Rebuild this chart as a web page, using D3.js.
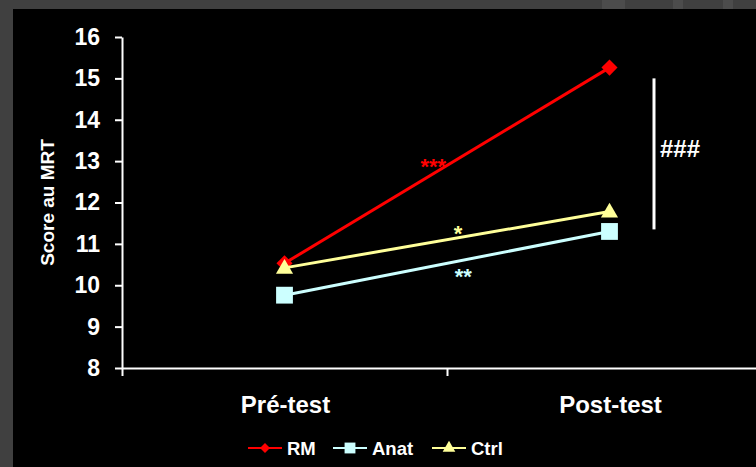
<!DOCTYPE html>
<html>
<head>
<meta charset="utf-8">
<script src="https://cdn.jsdelivr.net/npm/d3@7"></script>
<style>
  html, body { margin: 0; padding: 0; background: #404040; }
  svg { display: block; font-family: "Liberation Sans", Arial, sans-serif; font-weight: bold; }
  .axis path, .axis line { stroke: #fff; stroke-width: 2; }
  .axis text { fill: #fff; font-size: 23px; font-weight: bold; font-family: "Liberation Sans", Arial, sans-serif; }
</style>
</head>
<body>
<div id="chart"></div>
<script>
const categories = ["Pré-test", "Post-test"];
const groups = ["RM", "Anat", "Ctrl"];
const rmScores = [10.53, 15.26];
const anatScores = [9.76, 11.3];
const ctrlScores = [10.42, 11.78];
const yTicks = [8, 9, 10, 11, 12, 13, 14, 15, 16];
const starLabels = ["***", "*", "**"];
const sigLabel = "###";

const width = 756, height = 467;
const margin = { top: 37, left: 122, bottom: 99 };
const colors = { RM: "#ff0000", Anat: "#ccffff", Ctrl: "#ffff99" };
const symbols = { RM: d3.symbolDiamond2, Anat: d3.symbolSquare2, Ctrl: d3.symbolTriangle2 };

const series = [
  { name: "RM", values: rmScores, star: starLabels[0], starPos: [0.479, 12.7], size: 165, legendSize: 64 },
  { name: "Anat", values: anatScores, star: starLabels[2], starPos: [0.525, 10.03], size: 360, legendSize: 150 },
  { name: "Ctrl", values: ctrlScores, star: starLabels[1], starPos: [0.517, 11.07], size: 210, legendSize: 115 }
];

const svg = d3.select("#chart").append("svg")
  .attr("width", width)
  .attr("height", height);

// slide frame: grey border then black plot area
svg.append("rect").attr("width", width).attr("height", height).attr("fill", "#404040");
[[602, 23], [673, 10], [723, 10]].forEach(([x, w]) =>
  svg.append("rect").attr("x", x).attr("y", 0).attr("width", w).attr("height", 9).attr("fill", "#4c4c4c"));
svg.append("rect").attr("x", 13).attr("y", 9).attr("width", width - 13).attr("height", height - 9).attr("fill", "#000");

const xBand = d3.scaleBand().domain(categories).range([margin.left, 772]);
const xEdge = d3.scaleLinear().domain([0, categories.length]).range([margin.left, 772]);
const y = d3.scaleLinear().domain([8, 16]).range([height - margin.bottom, margin.top]);
const xPos = i => xBand(categories[i]) + xBand.bandwidth() / 2;

svg.append("g")
  .attr("class", "axis")
  .attr("transform", `translate(${margin.left},0)`)
  .call(d3.axisLeft(y).tickValues(yTicks).tickSize(7).tickPadding(15).tickSizeOuter(0));

svg.append("g")
  .attr("class", "axis")
  .attr("transform", `translate(0,${y(8)})`)
  .call(d3.axisBottom(xEdge).tickValues(d3.range(categories.length + 1)).tickFormat("").tickSize(8).tickSizeOuter(0));

svg.selectAll(".cat")
  .data(categories)
  .enter().append("text")
  .attr("x", (d, i) => xPos(i) + 1)
  .attr("y", 413)
  .attr("text-anchor", "middle")
  .attr("fill", "#fff")
  .style("font-size", "24px")
  .text(d => d);

svg.append("text")
  .attr("transform", `translate(54,${(y(8) + y(16)) / 2}) rotate(-90)`)
  .attr("text-anchor", "middle")
  .attr("fill", "#fff")
  .style("font-size", "19px")
  .text("Score au MRT");

const line = d3.line()
  .x((d, i) => xPos(i))
  .y(d => y(d));

const g = svg.selectAll(".series")
  .data(series)
  .enter().append("g")
  .attr("class", "series");

g.append("path")
  .attr("d", d => line(d.values))
  .attr("fill", "none")
  .attr("stroke", d => colors[d.name])
  .attr("stroke-width", 3);

g.selectAll(".pt")
  .data(d => d.values.map((v, i) => ({ v, i, s: d })))
  .enter().append("path")
  .attr("transform", d => `translate(${xPos(d.i)},${y(d.v) + (d.s.name === "Ctrl" ? 1 : 0)})`)
  .attr("d", d => d3.symbol(symbols[d.s.name], d.s.size)())
  .attr("fill", d => colors[d.s.name]);

g.append("text")
  .attr("x", d => xEdge(d.starPos[0] * categories.length))
  .attr("y", d => y(d.starPos[1]))
  .attr("text-anchor", "middle")
  .attr("fill", d => colors[d.name])
  .style("font-size", "22px")
  .text(d => d.star);

// significance bar between groups at post-test
svg.append("line")
  .attr("x1", 654).attr("x2", 654)
  .attr("y1", y(15.0)).attr("y2", y(11.35))
  .attr("stroke", "#fff").attr("stroke-width", 3);

svg.append("text")
  .attr("x", 660)
  .attr("y", y(13.1))
  .attr("fill", "#fff")
  .style("font-size", "24px")
  .text(sigLabel);

const legend = svg.append("g").attr("transform", "translate(248,448)");
const legendX = [0, 85, 184];
const item = legend.selectAll(".item")
  .data(series)
  .enter().append("g")
  .attr("transform", (d, i) => `translate(${legendX[i]},0)`);

item.append("line")
  .attr("x1", 0).attr("x2", 34)
  .attr("stroke", d => colors[d.name]).attr("stroke-width", 2);

item.append("path")
  .attr("transform", "translate(17,0)")
  .attr("d", d => d3.symbol(symbols[d.name], d.legendSize)())
  .attr("fill", d => colors[d.name]);

item.append("text")
  .attr("x", 39)
  .attr("y", 6.5)
  .attr("fill", "#fff")
  .style("font-size", "18.5px")
  .text(d => d.name);
</script>
</body>
</html>
